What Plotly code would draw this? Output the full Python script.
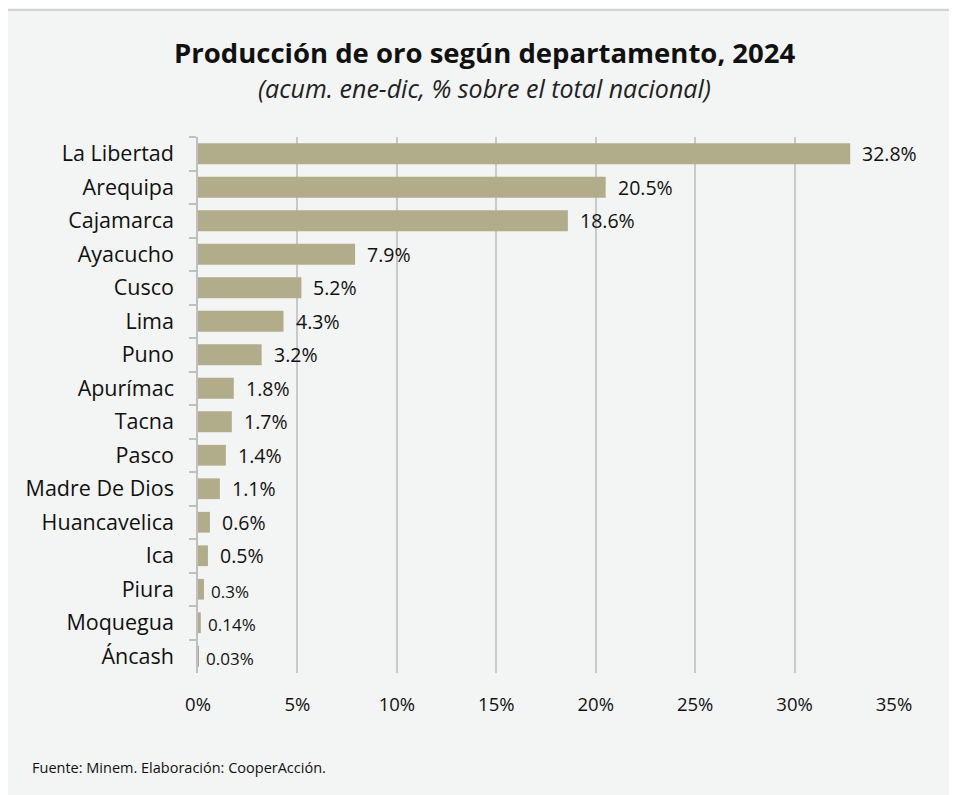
import plotly.graph_objects as go

departamentos = ["La Libertad", "Arequipa", "Cajamarca", "Ayacucho", "Cusco", "Lima", "Puno",
                 "Apurímac", "Tacna", "Pasco", "Madre De Dios", "Huancavelica", "Ica", "Piura",
                 "Moquegua", "Áncash"]
valores = [32.8, 20.5, 18.6, 7.9, 5.2, 4.3, 3.2, 1.8, 1.7, 1.4, 1.1, 0.6, 0.5, 0.3, 0.14, 0.03]
etiquetas = ["32.8%", "20.5%", "18.6%", "7.9%", "5.2%", "4.3%", "3.2%", "1.8%", "1.7%", "1.4%",
             "1.1%", "0.6%", "0.5%", "0.3%", "0.14%", "0.03%"]
ticks_x = [0, 5, 10, 15, 20, 25, 30, 35]
ticks_x_text = ["0%", "5%", "10%", "15%", "20%", "25%", "30%", "35%"]

FONT = "Open Sans"
OFF = 8  # page body margin
W, H = 957 - OFF, 795 - OFF
# plot area target in window pixels: x 198..894, y 137..673
L, R = 198 - OFF, 957 - 894
T, B = 137 - OFF, 795 - 673
pw, ph = W - L - R, H - T - B

def px_x(p):
    return (p - OFF - L) / pw

def px_y(p):
    return (H - B - (p - OFF)) / ph

fig = go.Figure()
fig.add_trace(go.Bar(
    y=departamentos, x=valores, orientation="h",
    marker=dict(color="#b1ad8b", line=dict(width=0)),
    width=0.62, hoverinfo="skip",
))

annotations = []
for d, v, t in zip(departamentos, valores, etiquetas):
    small = v < 0.4
    annotations.append(dict(
        x=v, y=d, xref="x", yref="y", text=t, showarrow=False,
        xanchor="left", yanchor="middle", xshift=10 if not small else 5,
        yshift=-2 if small else 0,
        font=dict(family=FONT, size=17 if small else 19.5, color="#111111"),
    ))

annotations.append(dict(
    x=px_x(485), y=px_y(52), xref="paper", yref="paper", showarrow=False,
    text="<b>Producción de oro según departamento, 2024</b>",
    font=dict(family=FONT, size=27.5, color="#111111"), xanchor="center", yanchor="middle",
))
annotations.append(dict(
    x=px_x(484), y=px_y(88), xref="paper", yref="paper", showarrow=False,
    text="<i>(acum. ene-dic, % sobre el total nacional)</i>",
    font=dict(family=FONT, size=25, color="#222222"), xanchor="center", yanchor="middle",
))
annotations.append(dict(
    x=px_x(30), y=px_y(767), xref="paper", yref="paper", showarrow=False,
    text="Fuente: Minem. Elaboración: CooperAcción.",
    font=dict(family=FONT, size=14.5, color="#111111"), xanchor="left", yanchor="middle",
))

shapes = [dict(
    type="rect", xref="paper", yref="paper",
    x0=px_x(5), x1=px_x(990), y0=px_y(10), y1=px_y(830),
    line=dict(color="#d3d3d3", width=2), fillcolor="rgba(0,0,0,0)", layer="below",
)]

fig.update_layout(
    width=W, height=H,
    margin=dict(l=L, r=R, t=T, b=B, autoexpand=False),
    paper_bgcolor="#f3f5f4", plot_bgcolor="#f3f5f4",
    showlegend=False,
    annotations=annotations,
    shapes=shapes,
    xaxis=dict(
        range=[0, 35], tickvals=ticks_x, ticktext=ticks_x_text,
        showgrid=True, gridcolor="#c9c9c9", gridwidth=1.5,
        zeroline=False, showline=False, ticks="",
        tickfont=dict(family=FONT, size=18.5, color="#111111"),
        ticklabelstandoff=18, fixedrange=True,
    ),
    yaxis=dict(
        categoryorder="array", categoryarray=departamentos, autorange="reversed",
        showline=True, linecolor="#bfbfbf", linewidth=1.5,
        ticks="outside", tickson="boundaries", ticklen=7, tickcolor="#bfbfbf", tickwidth=1.5,
        tickfont=dict(family=FONT, size=21.5, color="#111111"),
        ticklabelstandoff=18, showgrid=False, fixedrange=True,
    ),
)

fig.write_html("out.html")
